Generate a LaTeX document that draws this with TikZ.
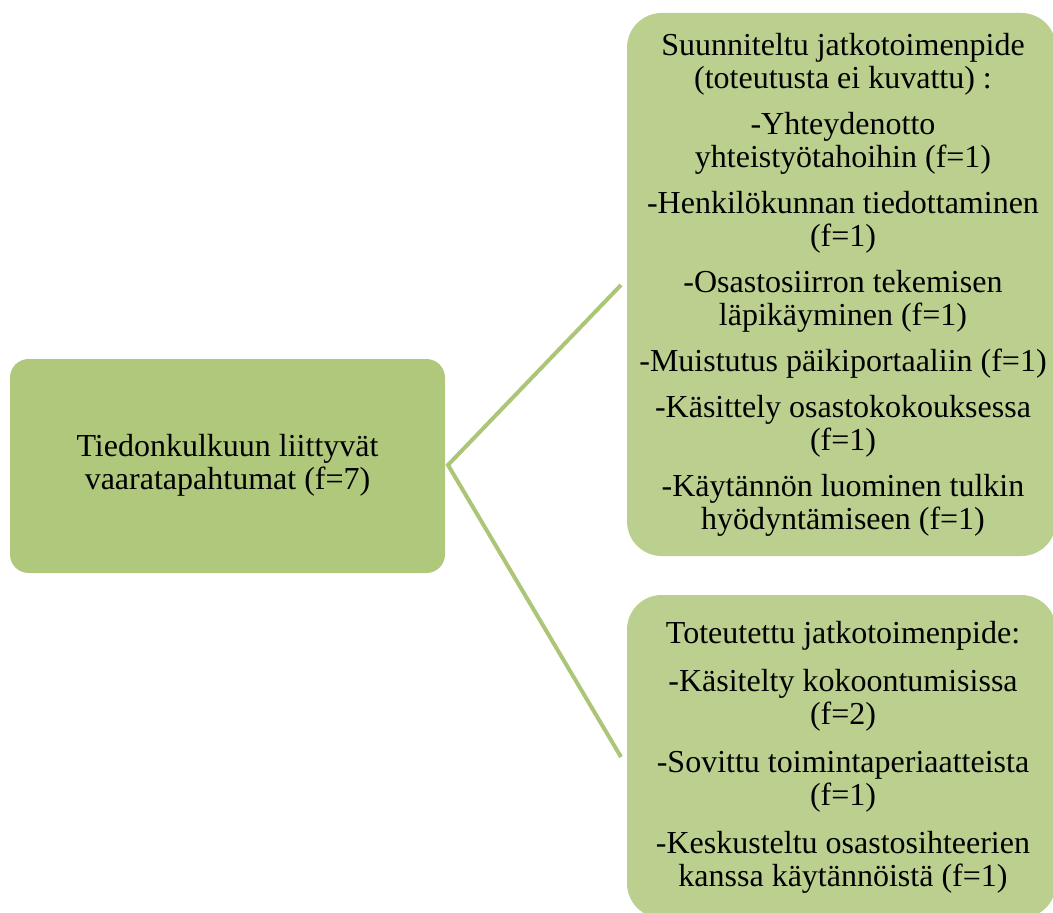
\documentclass[tikz,border=0pt]{standalone}
\usepackage{fontspec}
\setmainfont{Liberation Serif}
\definecolor{leftgreen}{RGB}{176,200,124}
\definecolor{rightgreen}{RGB}{187,207,143}
\definecolor{linegreen}{RGB}{172,197,118}
\begin{document}
\begin{tikzpicture}[x=0.75pt,y=-0.75pt,
  txt/.style={align=center,font=\fontsize{24}{24.6}\selectfont,inner sep=0pt},
  srcbox/.style={fill=leftgreen,rounded corners=14pt,inner sep=0pt},
  tgtbox/.style={fill=rightgreen,rounded corners=26pt,inner sep=0pt},
  conn/.style={draw=linegreen,line width=3pt}]
\useasboundingbox (0,0) rectangle (1053,913);
% boxes
\node[srcbox,minimum width=326.25pt,minimum height=160.5pt] (src) at (227.5,466) {};
\node[tgtbox,minimum width=321.75pt,minimum height=407.25pt] (top) at (841.5,284.5) {};
\node[tgtbox,minimum width=321.75pt,minimum height=242.25pt] (bot) at (841.5,756.5) {};
% connectors
\coordinate (j) at (448,465);
\coordinate (t1) at (621,285);
\coordinate (t2) at (621,757);
\draw[conn,line join=miter] (t1) -- (j) -- (t2);
% texts
\node[txt] (srctxt) at (227.5,465) {Tiedonkulkuun liittyvät\\vaaratapahtumat (f=7)};
\node[txt] (toptxt) at (843,285) {Suunniteltu jatkotoimenpide\\(toteutusta ei kuvattu) :\\[10pt]
-Yhteydenotto\\yhteistyötahoihin (f=1)\\[10pt]
-Henkilökunnan tiedottaminen\\(f=1)\\[10pt]
-Osastosiirron tekemisen\\läpikäyminen (f=1)\\[10pt]
-Muistutus päikiportaaliin (f=1)\\[10pt]
-Käsittely osastokokouksessa\\(f=1)\\[10pt]
-Käytännön luominen tulkin\\hyödyntämiseen (f=1)};
\node[txt] (bottxt) at (843,757) {Toteutettu jatkotoimenpide:\\[11.5pt]
-Käsitelty kokoontumisissa\\(f=2)\\[11.5pt]
-Sovittu toimintaperiaatteista\\(f=1)\\[11.5pt]
-Keskusteltu osastosihteerien\\kanssa käytännöistä (f=1)};
\end{tikzpicture}
\end{document}
